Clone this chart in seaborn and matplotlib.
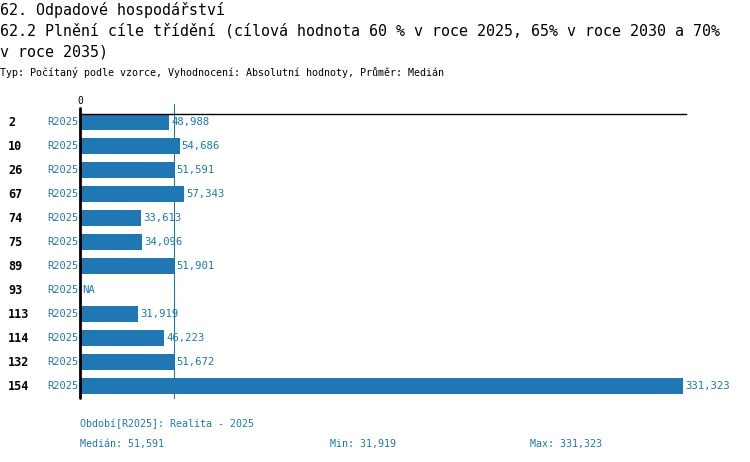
import numpy as np
import pandas as pd
import matplotlib
matplotlib.use("Agg")
import matplotlib.pyplot as plt
import seaborn as sns

categories = ["2", "10", "26", "67", "74", "75", "89", "93", "113", "114", "132", "154"]
values = [48988, 54686, 51591, 57343, 33613, 34096, 51901, np.nan, 31919, 46223, 51672, 331323]
period = "R2025"
median_val = 51591
min_val = 31919
max_val = 331323

sns.set_theme(style="white")
plt.rcParams['font.family'] = ['DejaVu Sans Mono', 'DejaVu Sans']

BLUE = "#1f77b4"
W, H = 750, 462
fig = plt.figure(figsize=(7.5, 4.62), dpi=100)
ax_left, ax_right = 80, 686
ax_top, ax_bot = 114, 398
ax = fig.add_axes([ax_left / W, 1 - ax_bot / H, (ax_right - ax_left) / W, (ax_bot - ax_top) / H])

df = pd.DataFrame({"cat": categories, "val": values})
sns.barplot(data=df, x="val", y="cat", order=categories, color=BLUE, saturation=1,
            width=0.667, ax=ax, orient="h", linewidth=0, edgecolor="none", zorder=2)
ax.set_xlim(0, max_val * (ax_right - ax_left) / (683 - ax_left))
ax.set_ylim(11.5, -0.333)
ax.set_xlabel("")
ax.set_ylabel("")
ax.set_xticks([])
ax.set_yticks([])
for s in ["left", "right", "bottom"]:
    ax.spines[s].set_visible(False)
ax.spines["top"].set_color("black")
ax.spines["top"].set_linewidth(1)

axh = ax_bot - ax_top
ax.axvline(median_val, ymin=0, ymax=1 + 10 / axh, color=BLUE, lw=0.8, clip_on=False, zorder=1)
ax.axvline(0, ymin=0, ymax=1 + 6 / axh, color="black", lw=2, clip_on=False, zorder=5)
ax.text(0, 1 + 8 / axh, "0", ha="center", va="bottom", fontsize=7, color="black",
        transform=ax.get_xaxis_transform())

def fx(px):
    return px / W

for i, (c, v) in enumerate(zip(categories, values)):
    ytxt = 1 - (122 + 24 * i) / H
    fig.text(fx(8), ytxt, c, ha="left", va="center", fontsize=8.5, fontweight="bold", color="black")
    fig.text(fx(78), ytxt, period, ha="right", va="center", fontsize=7.5, color=BLUE)
    label = "NA" if np.isnan(v) else f"{int(v):,}"
    xpos = 0 if np.isnan(v) else v
    ax.annotate(label, (xpos, i), xytext=(1.5, 0), textcoords="offset points",
                ha="left", va="center", fontsize=7.7, color=BLUE, zorder=6)

fig.text(0.0, 1 - 10 / H, "62. Odpadové hospodářství", ha="left", va="center", fontsize=10.8, color="black")
fig.text(0.0, 1 - 31 / H, "62.2 Plnění cíle třídění (cílová hodnota 60 % v roce 2025, 65% v roce 2030 a 70%",
         ha="left", va="center", fontsize=10.8, color="black")
fig.text(0.0, 1 - 52 / H, "v roce 2035)", ha="left", va="center", fontsize=10.8, color="black")
fig.text(0.0, 1 - 73 / H, "Typ: Počítaný podle vzorce, Vyhodnocení: Absolutní hodnoty, Průměr: Medián",
         ha="left", va="center", fontsize=7.2, color="black")

fig.text(fx(80), 1 - 424 / H, "Období[R2025]: Realita - 2025", ha="left", va="center", fontsize=7.2, color=BLUE)
fig.text(fx(80), 1 - 444 / H, f"Medián: {median_val:,}", ha="left", va="center", fontsize=7.2, color=BLUE)
fig.text(fx(330), 1 - 444 / H, f"Min: {min_val:,}", ha="left", va="center", fontsize=7.2, color=BLUE)
fig.text(fx(530), 1 - 444 / H, f"Max: {max_val:,}", ha="left", va="center", fontsize=7.2, color=BLUE)

fig.savefig("out.png", dpi=100, facecolor="white")
